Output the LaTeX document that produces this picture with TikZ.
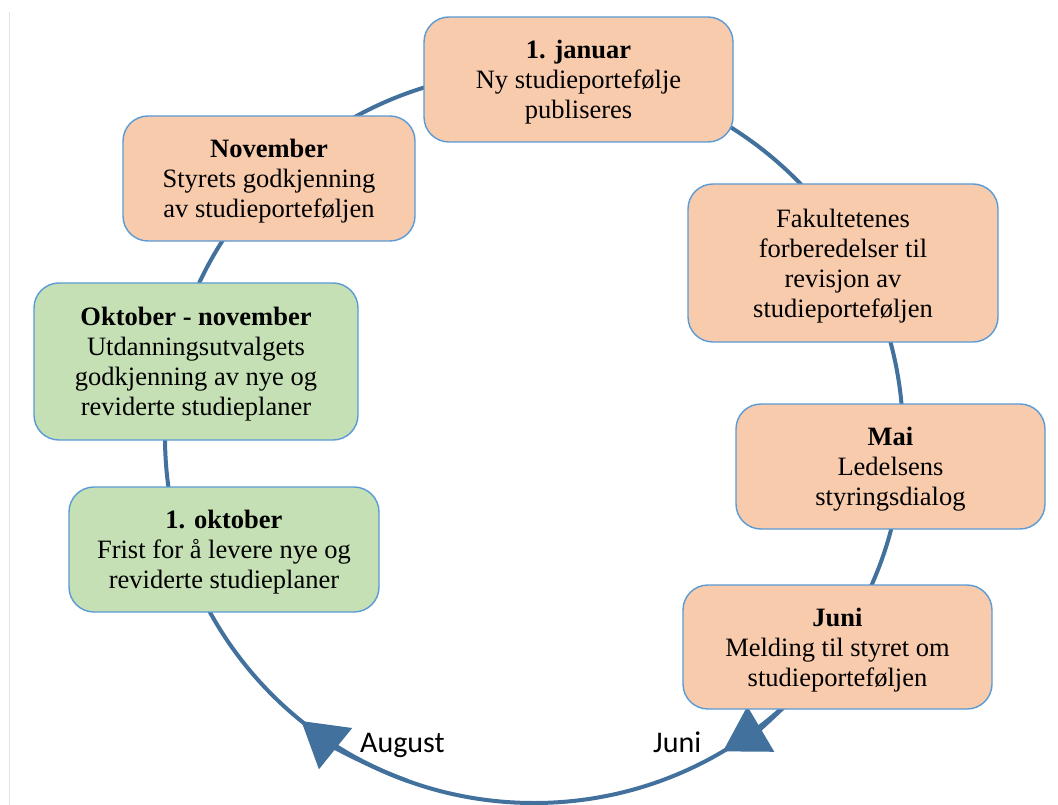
\documentclass[tikz,border=0pt]{standalone}
\usepackage{fontspec}
\setmainfont{Liberation Serif}
\newfontfamily\calibrifont{Carlito}
\usetikzlibrary{arrows.meta}
\definecolor{ringblue}{HTML}{41719C}
\definecolor{boxedge}{HTML}{5B9BD5}
\definecolor{orangefill}{HTML}{F8CBAD}
\definecolor{greenfill}{HTML}{C5E0B4}
\definecolor{pagegray}{HTML}{E3E3E3}
\newcommand{\firststrut}{\rule{0pt}{24pt}}
\tikzset{
  ring/.style={draw=ringblue, line width=4pt},
  ringtip/.style={ring, -{Triangle[length=44pt,width=52pt]}},
  stagebox/.style={draw=boxedge, line width=1.4pt, rounded corners=25pt,
    align=center, inner sep=0pt, font=\fontsize{26.5}{30}\selectfont, text=black},
  orangebox/.style={stagebox, fill=orangefill},
  greenbox/.style={stagebox, fill=greenfill},
  monthlabel/.style={anchor=base west, inner sep=0pt, font=\calibrifont\fontsize{30}{36}\selectfont}
}
\begin{document}
\begin{tikzpicture}[x=1pt, y=-1pt]
\useasboundingbox (0,0) rectangle (1058,805);
\fill[white] (0,0) rectangle (1058,805);
\draw[pagegray, line width=1.2pt] (9.5,12) -- (9.5,805);
% cycle ring
\draw[ring] (534,437) ellipse [x radius=369, y radius=366];
\draw[ringtip] (534,437) ++(40:369 and 366) arc[start angle=40, end angle=59.2, x radius=369, y radius=366];
\draw[ringtip] (534,437) ++(110:369 and 366) arc[start angle=110, end angle=129.1, x radius=369, y radius=366];
% stages
\node[orangebox, minimum width=309pt, minimum height=125pt] (jan) at (578.5,79.5)
  {\firststrut\textbf{1. januar}\\Ny studieportefølje\\publiseres};
\node[orangebox, minimum width=292pt, minimum height=125pt] (nov) at (269,178.5)
  {\firststrut\textbf{November}\\Styrets godkjenning\\av studieporteføljen};
\node[orangebox, minimum width=310pt, minimum height=158pt] (fak) at (843,263)
  {\firststrut Fakultetenes\\forberedelser til\\revisjon av\\studieporteføljen};
\node[greenbox, minimum width=324pt, minimum height=157pt] (oktnov) at (196,361.5)
  {\firststrut\textbf{Oktober - november}\\Utdanningsutvalgets\\godkjenning av nye og\\reviderte studieplaner};
\node[orangebox, minimum width=309pt, minimum height=125pt] (mai) at (890.5,466.5)
  {\firststrut\textbf{Mai}\\Ledelsens\\styringsdialog};
\node[greenbox, minimum width=310pt, minimum height=125pt] (okt) at (224,549.5)
  {\firststrut\textbf{1. oktober}\\Frist for å levere nye og\\reviderte studieplaner};
\node[orangebox, minimum width=309pt, minimum height=124pt] (juni) at (837.5,647)
  {\firststrut\textbf{Juni}\\Melding til styret om\\studieporteføljen};
% month labels
\node[monthlabel] (aug) at (360,752) {August};
\node[monthlabel] (jun) at (653,752) {Juni};
\end{tikzpicture}
\end{document}
